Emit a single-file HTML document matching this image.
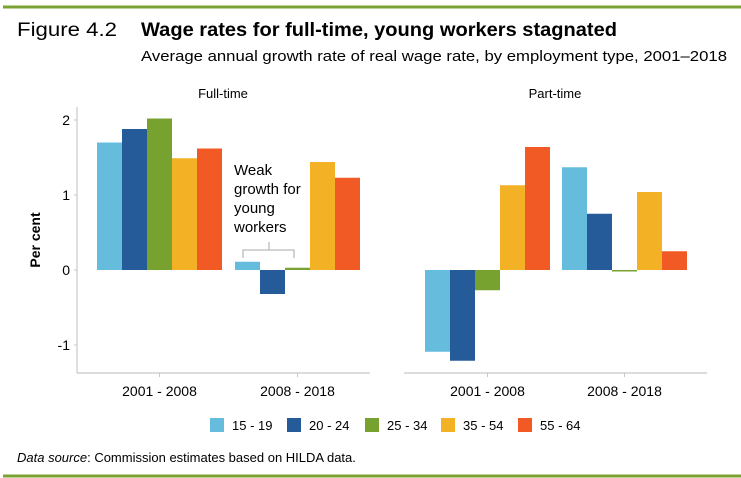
<!DOCTYPE html>
<html><head><meta charset="utf-8"><style>
html,body{margin:0;padding:0;background:#fff;}
svg{display:block;font-family:"Liberation Sans",Arial,sans-serif;}
</style></head><body>
<svg id="chart" width="741" height="478" viewBox="0 0 741 478" xmlns="http://www.w3.org/2000/svg">
<line x1="3" y1="7" x2="741" y2="7" stroke="#7aa232" stroke-width="3"/>
<text x="17" y="36" font-size="19" fill="#000" textLength="100" lengthAdjust="spacingAndGlyphs">Figure 4.2</text>
<text x="141" y="36" font-size="19" font-weight="bold" fill="#000" textLength="476" lengthAdjust="spacingAndGlyphs">Wage rates for full-time, young workers stagnated</text>
<text x="141" y="61" font-size="15" fill="#000" textLength="586" lengthAdjust="spacingAndGlyphs">Average annual growth rate of real wage rate, by employment type, 2001–2018</text>
<text x="223" y="98" font-size="13" text-anchor="middle">Full-time</text>
<text x="555" y="98" font-size="13" text-anchor="middle">Part-time</text>
<text transform="translate(40,240) rotate(-90)" font-size="14" font-weight="bold" text-anchor="middle">Per cent</text>
<line x1="77" y1="107" x2="77" y2="373" stroke="#c8c8c8" stroke-width="1.2"/>
<line x1="77" y1="373" x2="370" y2="373" stroke="#c8c8c8" stroke-width="1.2"/>
<line x1="404" y1="373" x2="707" y2="373" stroke="#c8c8c8" stroke-width="1.2"/>
<g id="ticks"></g>
<g id="bars"></g>
<g>
<text x="234" y="175" font-size="15">Weak</text>
<text x="234" y="194" font-size="15">growth for</text>
<text x="234" y="213" font-size="15">young</text>
<text x="234" y="232" font-size="15">workers</text>
<path d="M243,258 L243,250 L269,250 L269,242 M269,250 L294,250 L294,258" fill="none" stroke="#bbb" stroke-width="1.3"/>
</g>
<g id="legend"></g>
<text x="17" y="462" font-size="13"><tspan font-style="italic">Data source</tspan>: Commission estimates based on HILDA data.</text>
<line x1="3" y1="476" x2="741" y2="476" stroke="#7aa232" stroke-width="3"/>
</svg>
<script>
const ageGroups = ["15 - 19","20 - 24","25 - 34","35 - 54","55 - 64"];
const periods = ["2001 - 2008","2008 - 2018"];
const fullTime2001 = [1.70,1.88,2.02,1.49,1.62];
const fullTime2008 = [0.11,-0.32,0.03,1.44,1.23];
const partTime2001 = [-1.09,-1.21,-0.27,1.13,1.64];
const partTime2008 = [1.37,0.75,-0.02,1.04,0.25];
const yTicks = [2,1,0,-1];
const colors = ["#66bcdc","#265b9a","#78a22f","#f3b126","#f15a25"];
const NS = "http://www.w3.org/2000/svg";
const y = v => 270 - v*75;
const barW = 25;
const panels = [
  {name:"full-time", groups:[fullTime2001, fullTime2008], starts:[97,235]},
  {name:"part-time", groups:[partTime2001, partTime2008], starts:[425,562]}
];
function mk(tag, attrs, parent){const e=document.createElementNS(NS,tag);for(const k in attrs)e.setAttribute(k,attrs[k]);parent.appendChild(e);return e;}
const bars=document.getElementById('bars'), ticks=document.getElementById('ticks'), legend=document.getElementById('legend');
yTicks.forEach(t=>{
  const tx=mk('text',{x:70,y:y(t)+5,'font-size':14,'text-anchor':'end'},ticks);
  tx.textContent=t;
  
  
  const l=mk('line',{x1:74,x2:77,y1:y(t),y2:y(t),stroke:'#c8c8c8'},ticks);
  
  
});
panels.forEach(p=>{
  p.groups.forEach((vals,gi)=>{
    const x0=p.starts[gi];
    vals.forEach((v,i)=>{
      const top=Math.min(y(v),y(0)), h=Math.max(Math.abs(y(v)-y(0)),1);
      const r=mk('rect',{x:x0+i*barW,y:top,width:barW,height:h,fill:colors[i]},bars);
      
      
    });
    const cx=x0+barW*2.5;
    const tl=mk('line',{x1:cx,x2:cx,y1:373,y2:377,stroke:'#c8c8c8'},ticks);
    
    
    const tx=mk('text',{x:cx,y:396,'font-size':14,'text-anchor':'middle'},ticks);
    tx.textContent=periods[gi];
    
    
  });
});
const lx=[210,287,365,441,518];
ageGroups.forEach((a,i)=>{
  const g=mk('g',{},legend);
  
  
  mk('rect',{x:lx[i],y:418,width:14,height:14,fill:colors[i]},g);
  const t=mk('text',{x:lx[i]+22,y:430,'font-size':13},g);
  t.textContent=a;
});
</script>
</body></html>
